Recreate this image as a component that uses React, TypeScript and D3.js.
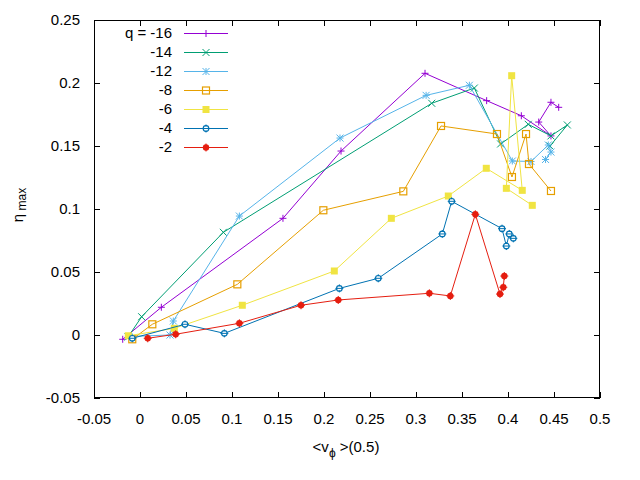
import { useEffect, useRef } from 'react';
import * as d3 from 'd3';

// q = -16 .. -2 series
const qLabels = ['q = -16', '-14', '-12', '-8', '-6', '-4', '-2'];
const colors = ['#9400d3', '#009e73', '#56b4e9', '#e69f00', '#f0e442', '#0072b2', '#e51e10'];
const markers = ['plus', 'cross', 'star', 'square', 'fsquare', 'ocircle', 'fcircle'];

const x16 = [-0.0188, 0.0232, 0.1554, 0.2185, 0.3098, 0.3768, 0.4145, 0.4467, 0.4334, 0.4467, 0.4551];
const y16 = [-0.0034, 0.022, 0.0926, 0.146, 0.2077, 0.186, 0.174, 0.158, 0.169, 0.1847, 0.1807];

const x14 = [-0.013, 0.0018, 0.0906, 0.3171, 0.3634, 0.392, 0.422, 0.4467, 0.4645, 0.4457];
const y14 = [-0.0016, 0.0145, 0.0815, 0.1839, 0.196, 0.1516, 0.1672, 0.158, 0.1667, 0.15];

const x12 = [-0.012, 0.0326, 0.0362, 0.108, 0.2174, 0.311, 0.358, 0.4047, 0.425, 0.4438, 0.4467, 0.4408];
const y12 = [-0.0012, 0.0, 0.0111, 0.0944, 0.1563, 0.1902, 0.1982, 0.1381, 0.1377, 0.1508, 0.1452, 0.1393];

const x8 = [-0.0084, 0.0134, 0.1058, 0.1993, 0.2862, 0.3272, 0.388, 0.4043, 0.4196, 0.4228, 0.4467];
const y8 = [-0.0034, 0.0085, 0.0402, 0.099, 0.114, 0.1659, 0.1595, 0.1254, 0.1595, 0.1357, 0.1143];

const x6 = [-0.0127, 0.0373, 0.1112, 0.2112, 0.2732, 0.3351, 0.3764, 0.4155, 0.404, 0.3982, 0.4264];
const y6 = [-0.0006, 0.0053, 0.0236, 0.0508, 0.0926, 0.1103, 0.1323, 0.1148, 0.2058, 0.1164, 0.1029];

const x4 = [-0.0084, 0.0489, 0.0917, 0.2167, 0.259, 0.3286, 0.3388, 0.3935, 0.3982, 0.4014, 0.4058];
const y4 = [-0.0026, 0.0085, 0.0013, 0.037, 0.045, 0.0802, 0.1061, 0.0844, 0.0706, 0.0802, 0.0767];

const x2 = [0.0084, 0.0388, 0.108, 0.175, 0.2155, 0.3145, 0.3373, 0.3645, 0.3913, 0.3949, 0.396];
const y2 = [-0.0026, 0.0006, 0.0093, 0.0236, 0.0278, 0.0331, 0.031, 0.0958, 0.0325, 0.0379, 0.0468];

const seriesX = [x16, x14, x12, x8, x6, x4, x2];
const seriesY = [y16, y14, y12, y8, y6, y4, y2];

const xTicks = [-0.05, 0, 0.05, 0.1, 0.15, 0.2, 0.25, 0.3, 0.35, 0.4, 0.45, 0.5];
const yTicks = [-0.05, 0, 0.05, 0.1, 0.15, 0.2, 0.25];

const FONT = '"Liberation Sans", Arial, sans-serif';

function drawMarker(g: any, kind: string, cx: number, cy: number, color: string) {
    const s = 3.5;
    const stroke = (d: string) => g.append('path').attr('d', d)
        .attr('stroke', color).attr('stroke-width', 1).attr('fill', 'none');
    if (kind === 'plus') {
        stroke(`M${cx - s},${cy}H${cx + s}M${cx},${cy - s}V${cy + s}`);
    } else if (kind === 'cross') {
        stroke(`M${cx - s},${cy - s}L${cx + s},${cy + s}M${cx - s},${cy + s}L${cx + s},${cy - s}`);
    } else if (kind === 'star') {
        stroke(`M${cx - s},${cy}H${cx + s}M${cx},${cy - s}V${cy + s}M${cx - s},${cy - s}L${cx + s},${cy + s}M${cx - s},${cy + s}L${cx + s},${cy - s}`);
    } else if (kind === 'square') {
        g.append('rect').attr('x', cx - s).attr('y', cy - s).attr('width', 2 * s).attr('height', 2 * s)
            .attr('stroke', color).attr('stroke-width', 1.2).attr('fill', 'none');
    } else if (kind === 'fsquare') {
        g.append('rect').attr('x', cx - s).attr('y', cy - s).attr('width', 2 * s).attr('height', 2 * s)
            .attr('fill', color);
    } else if (kind === 'ocircle') {
        g.append('circle').attr('cx', cx).attr('cy', cy).attr('r', 2.8)
            .attr('stroke', color).attr('stroke-width', 1.2).attr('fill', '#fff');
        stroke(`M${cx - 4},${cy}H${cx + 4}M${cx},${cy - 4}V${cy - 2}M${cx},${cy + 2}V${cy + 4}`);
    } else {
        g.append('circle').attr('cx', cx).attr('cy', cy).attr('r', 3.2).attr('fill', color);
        stroke(`M${cx - 4},${cy}H${cx + 4}M${cx},${cy - 4}V${cy + 4}`);
    }
}

export default function App() {
    const svgRef = useRef<SVGSVGElement>(null);

    useEffect(() => {
        if (!svgRef.current) return;
        const svg = d3.select(svgRef.current);
        svg.selectAll('*').remove();

        const left = 94, right = 600, top = 20, bottom = 398;
        const x = d3.scaleLinear().domain([-0.05, 0.5]).range([left, right]);
        const y = d3.scaleLinear().domain([-0.05, 0.25]).range([bottom, top]);

        svg.append('rect').attr('width', 640).attr('height', 480).attr('fill', '#fff');

        // ticks (mirrored, inward)
        const tk = 6;
        const ticks = svg.append('g').attr('stroke', '#000').attr('stroke-width', 1);
        xTicks.forEach(t => {
            const px = Math.round(x(t)) + 0.5;
            ticks.append('line').attr('x1', px).attr('x2', px).attr('y1', bottom).attr('y2', bottom - tk);
            ticks.append('line').attr('x1', px).attr('x2', px).attr('y1', top).attr('y2', top + tk);
            svg.append('text').attr('x', x(t)).attr('y', 424)
                .attr('text-anchor', 'middle').attr('font-family', FONT).attr('font-size', 15)
                .text(String(t));
        });
        yTicks.forEach(t => {
            const py = Math.round(y(t)) + 0.5;
            ticks.append('line').attr('x1', left).attr('x2', left + tk).attr('y1', py).attr('y2', py);
            ticks.append('line').attr('x1', right).attr('x2', right - tk).attr('y1', py).attr('y2', py);
            svg.append('text').attr('x', 80).attr('y', y(t) + 5)
                .attr('text-anchor', 'end').attr('font-family', FONT).attr('font-size', 15)
                .text(String(t));
        });

        // series
        seriesX.forEach((xs, i) => {
            const pts = xs.map((v, j) => [x(v), y(seriesY[i][j])] as [number, number]);
            svg.append('path').attr('d', d3.line()(pts)!)
                .attr('fill', 'none').attr('stroke', colors[i]).attr('stroke-width', 1);
            const g = svg.append('g');
            pts.forEach(p => drawMarker(g, markers[i], p[0], p[1], colors[i]));
        });

        // legend
        qLabels.forEach((lab, i) => {
            const ly = 33 + i * 19;
            svg.append('text').attr('x', 172).attr('y', ly + 5)
                .attr('text-anchor', 'end').attr('font-family', FONT).attr('font-size', 15)
                .text(lab);
            svg.append('line').attr('x1', 184).attr('x2', 228).attr('y1', ly + 0.5).attr('y2', ly + 0.5)
                .attr('stroke', colors[i]).attr('stroke-width', 1);
            drawMarker(svg.append('g'), markers[i], 206, ly + 0.5, colors[i]);
        });

        // frame
        svg.append('rect').attr('x', left + 0.5).attr('y', top + 0.5)
            .attr('width', right - left - 1).attr('height', bottom - top - 1)
            .attr('fill', 'none').attr('stroke', '#000').attr('stroke-width', 1);

        // axis labels
        const xl = svg.append('text').attr('x', 346).attr('y', 452)
            .attr('text-anchor', 'middle').attr('font-family', FONT).attr('font-size', 15);
        xl.append('tspan').text('<v');
        xl.append('tspan').attr('dy', 5).attr('font-size', 12).text('ϕ');
        xl.append('tspan').attr('dy', -5).text(' >(0.5)');

        const yl = svg.append('text').attr('transform', 'translate(23,205) rotate(-90)')
            .attr('text-anchor', 'middle').attr('font-family', FONT).attr('font-size', 15);
        yl.append('tspan').text('η');
        yl.append('tspan').attr('dy', 3).attr('font-size', 12).text(' max');
    }, []);

    return (
        <svg ref={svgRef} width={640} height={480}
            style={{ position: 'absolute', left: 0, top: 0 }} />
    );
}
